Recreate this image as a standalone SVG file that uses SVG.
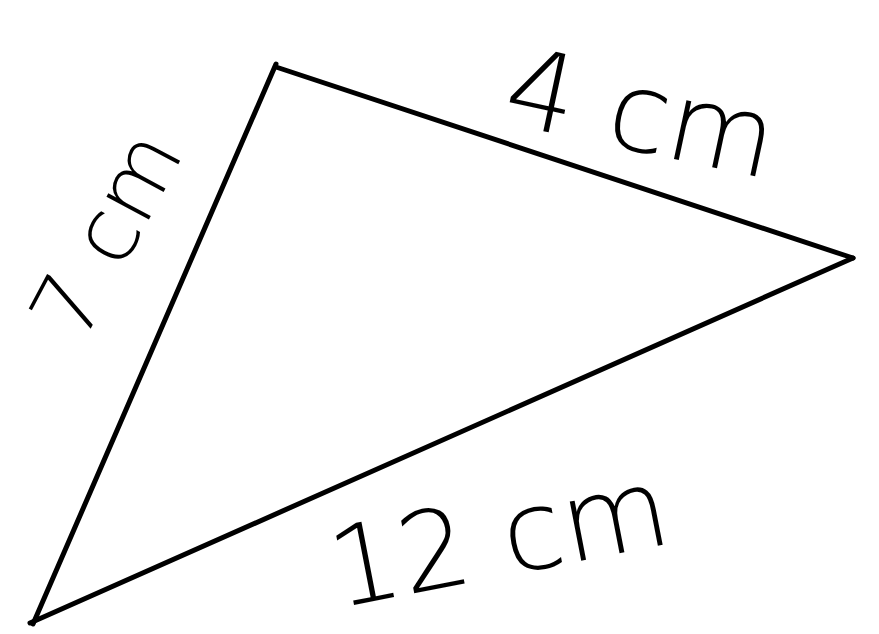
<svg xmlns="http://www.w3.org/2000/svg" width="879" height="634" viewBox="0 0 879 634">
<style>
.edge{fill:none;stroke:#000;stroke-width:5;stroke-linecap:round;stroke-linejoin:round}
.lbl{font-family:"DejaVu Sans","Liberation Sans",sans-serif;font-weight:300;fill:#000}
</style>
<rect width="879" height="634" fill="#fff"/>
<g id="connectors">
<path class="edge" d="M276,64 L33,624"/>
<path class="edge" d="M276,67 L853,258"/>
<path class="edge" d="M853,258 L30,623"/>
</g>
<g id="label-4cm"><text class="lbl" font-size="110" transform="translate(500,122) rotate(12)">4 cm</text></g>
<g id="label-7cm"><text class="lbl" font-size="88" transform="translate(82,345) rotate(-62)">7 cm</text></g>
<g id="label-12cm"><text class="lbl" font-size="110" transform="translate(338,608) rotate(-11)">12 cm</text></g>
</svg>
